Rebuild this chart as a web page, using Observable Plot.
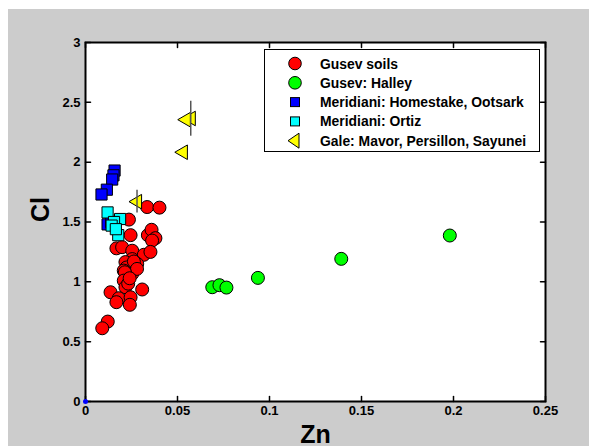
<!DOCTYPE html>
<html><head><meta charset="utf-8">
<script src="https://cdn.jsdelivr.net/npm/d3@7"></script>
<script src="https://cdn.jsdelivr.net/npm/@observablehq/plot@0.6"></script>
<style>
body{margin:0;background:#fff;}
#fig{position:relative;width:589px;height:446px;overflow:hidden;background:#fff;font-family:"Liberation Sans",Arial,Helvetica,sans-serif;}
#gray{position:absolute;left:8px;top:9px;right:0;bottom:0;background:#cccccc;}
#chart{position:absolute;left:0;top:0;}
#legend{position:absolute;left:264px;top:49px;}
</style></head><body>
<div id="fig"><div id="gray"></div><div id="chart"></div><div id="legend"></div></div>
<script>
// Zn, Cl pairs
const gusevSoils = [
 [0.0335,1.625],[0.0402,1.62],
 [0.0236,1.52],
 [0.0245,1.39],[0.0339,1.39],[0.0359,1.435],[0.0380,1.365],[0.0362,1.345],
 [0.0168,1.28],[0.0199,1.29],[0.0254,1.26],[0.0317,1.226],[0.0353,1.25],
 [0.0254,1.19],[0.0217,1.165],[0.0281,1.15],[0.0223,1.12],[0.0263,1.17],
 [0.0208,1.094],[0.0254,1.067],[0.0280,1.108],[0.0214,1.08],[0.0208,1.01],[0.0217,0.955],[0.0232,0.985],[0.0240,1.03],
 [0.0136,0.913],[0.0181,0.863],[0.0245,0.871],[0.0241,0.808],[0.0168,0.83],[0.0308,0.936],
 [0.0121,0.668],[0.0091,0.612]
];
const gusevHalley = [[0.0689,0.955],[0.0728,0.972],[0.0766,0.952],[0.0937,1.033],[0.139,1.192],[0.198,1.387]];
const meridianiHomestake = [[0.0158,1.93],[0.0152,1.89],[0.0145,1.855],[0.0116,1.77],[0.0087,1.73],[0.0120,1.48],[0.0140,1.50]];
const meridianiOrtiz = [[0.0120,1.58],[0.0188,1.525],[0.0155,1.50],[0.0142,1.47],[0.0178,1.39],[0.0165,1.44]];
const gale = [[0.0282,1.67],[0.0574,2.365],[0.0547,2.355],[0.0531,2.083]];
// error bars: Zn, Cl, half-range
const galeErrors = [[0.0280,1.67,0.095],[0.0572,2.363,0.146]];
const originPoint = [[0,0]];

const xTicks = [0,0.05,0.1,0.15,0.2,0.25];
const yTicks = [0,0.5,1,1.5,2,2.5,3];
const legendNames = ["Gusev soils","Gusev: Halley","Meridiani: Homestake, Ootsark","Meridiani: Ortiz","Gale: Mavor, Persillon, Sayunei"];
const legendColors = ["#ff0000","#00ff00","#0000ff","#00ffff","#ffff00"];
const legendShapes = ["circle","circle","square","square","triangle"];

const tickShape = {draw(c, l){ c.moveTo(0,0); c.lineTo(0,-l); }};
const px = d => d[0], py = d => d[1];
const dotOpts = (fill, extra={}) => ({x: px, y: py, fill, stroke: "black", strokeWidth: 1, ...extra});

const plot = Plot.plot({
  width: 589, height: 446,
  marginLeft: 85, marginRight: 44, marginTop: 42, marginBottom: 45,
  x: {domain: [0, 0.25], label: null},
  y: {domain: [0, 3], label: null},
  style: {background: "transparent", fontFamily: "Liberation Sans, Arial, sans-serif", fontWeight: "bold", fontSize: "13px", color: "black", overflow: "visible"},
  marks: [
    Plot.frame({fill: "white"}),
    Plot.dot(gusevSoils, dotOpts(legendColors[0], {r: 6.5})),
    Plot.dot(gusevHalley, dotOpts(legendColors[1], {r: 6.5})),
    Plot.dot(meridianiHomestake, dotOpts(legendColors[2], {r: 6.3, symbol: "square"})),
    Plot.dot(meridianiOrtiz, dotOpts(legendColors[3], {r: 6.3, symbol: "square"})),
    Plot.dot(gale, dotOpts(legendColors[4], {r: 5.4, symbol: "triangle", rotate: -90})),
    Plot.ruleX(galeErrors, {x: d => d[0], y1: d => d[1] - d[2], y2: d => d[1] + d[2], stroke: "#555", strokeWidth: 1.5}),
    Plot.axisX({ticks: xTicks, tickSize: 0, tickPadding: 4, tickFormat: d => String(d), fontSize: 13, fontWeight: "bold"}),
    Plot.axisY({ticks: yTicks, tickSize: 0, tickPadding: 5, tickFormat: d => String(d), fontSize: 13, fontWeight: "bold"}),
    Plot.vector(xTicks, {x: d => d, y: 0, length: 5, rotate: 0, anchor: "start", shape: tickShape, stroke: "black", strokeWidth: 1.5}),
    Plot.vector(xTicks, {x: d => d, y: 3, length: 5, rotate: 180, anchor: "start", shape: tickShape, stroke: "black", strokeWidth: 1.5}),
    Plot.vector(yTicks, {x: 0, y: d => d, length: 5, rotate: 90, anchor: "start", shape: tickShape, stroke: "black", strokeWidth: 1.5}),
    Plot.vector(yTicks, {x: 0.25, y: d => d, length: 5, rotate: -90, anchor: "start", shape: tickShape, stroke: "black", strokeWidth: 1.5}),
    Plot.frame({stroke: "black", strokeWidth: 2}),
    Plot.text(["Zn"], {frameAnchor: "bottom", lineAnchor: "middle", dy: 33, fontSize: 25, fontWeight: "bold", text: d => d}),
    Plot.text(["Cl"], {frameAnchor: "left", dx: -45, rotate: -90, fontSize: 25, fontWeight: "bold", text: d => d}),
    Plot.dot(originPoint, {x: px, y: py, r: 2.5, fill: "#0000ff"})
  ]
});
document.getElementById("chart").appendChild(plot);

// legend
const lw = 276, lh = 103;
const lg = d3.create("svg").attr("width", lw).attr("height", lh)
  .style("font-family", "Liberation Sans, Arial, sans-serif");
lg.append("rect").attr("x", 0.5).attr("y", 0.5).attr("width", lw - 1).attr("height", lh - 1)
  .attr("fill", "white").attr("stroke", "black");
legendNames.forEach((name, i) => {
  const cy = 14.5 + i * 19.3, cx = 31;
  const s = legendShapes[i], col = legendColors[i];
  if (s === "circle") lg.append("circle").attr("cx", cx).attr("cy", cy).attr("r", 6.3).attr("fill", col).attr("stroke", "black");
  else if (s === "square") lg.append("rect").attr("x", cx - 4.5).attr("y", cy - 4.5).attr("width", 9).attr("height", 9).attr("fill", col).attr("stroke", "black");
  else lg.append("path").attr("d", `M${cx-7},${cy}L${cx+4},${cy-7.5}L${cx+4},${cy+7.5}Z`).attr("fill", col).attr("stroke", "black");
  lg.append("text").attr("x", 56).attr("y", cy).attr("dy", "0.36em")
    .attr("font-size", 13.9).attr("font-weight", "bold").text(name);
});
document.getElementById("legend").appendChild(lg.node());
</script>
</body></html>
